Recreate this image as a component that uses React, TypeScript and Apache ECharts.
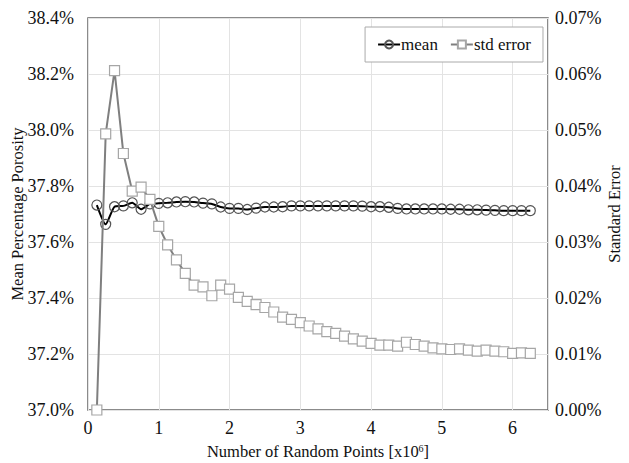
import React, { useEffect, useRef } from "react";
import * as echarts from "echarts";

// x values: number of random points [x10^6]
const xPoints: number[] = [
  0.125, 0.25, 0.375, 0.5, 0.625, 0.75, 0.875, 1.0, 1.125, 1.25,
  1.375, 1.5, 1.625, 1.75, 1.875, 2.0, 2.125, 2.25, 2.375, 2.5,
  2.625, 2.75, 2.875, 3.0, 3.125, 3.25, 3.375, 3.5, 3.625, 3.75,
  3.875, 4.0, 4.125, 4.25, 4.375, 4.5, 4.625, 4.75, 4.875, 5.0,
  5.125, 5.25, 5.375, 5.5, 5.625, 5.75, 5.875, 6.0, 6.125, 6.25,
];

// mean percentage porosity (%)
const meanValues: number[] = [
  37.732, 37.663, 37.726, 37.729, 37.740, 37.717, 37.736, 37.738, 37.740, 37.743,
  37.744, 37.743, 37.739, 37.736, 37.725, 37.720, 37.720, 37.716, 37.721, 37.725,
  37.725, 37.726, 37.729, 37.729, 37.729, 37.729, 37.729, 37.729, 37.729, 37.729,
  37.728, 37.726, 37.726, 37.724, 37.720, 37.718, 37.718, 37.718, 37.718, 37.718,
  37.717, 37.717, 37.715, 37.715, 37.714, 37.713, 37.712, 37.712, 37.712, 37.712,
];

// standard error (%)
const stdErrorValues: number[] = [
  0.0, 0.0493, 0.0606, 0.0458, 0.0391, 0.0398, 0.0376, 0.0328, 0.0295, 0.0268,
  0.0244, 0.0223, 0.0220, 0.0204, 0.0223, 0.0216, 0.0201, 0.0194, 0.0188, 0.0183,
  0.0175, 0.0166, 0.0162, 0.0156, 0.0150, 0.0145, 0.0140, 0.0137, 0.0132, 0.0127,
  0.0123, 0.0119, 0.0116, 0.0116, 0.0114, 0.0121, 0.0117, 0.0114, 0.0111, 0.0109,
  0.0108, 0.0109, 0.0107, 0.0105, 0.0107, 0.0105, 0.0104, 0.0101, 0.0102, 0.0101,
];

const FONT = "Liberation Serif";
const TEXT = "#111";

export default function App() {
  const ref = useRef<HTMLDivElement>(null);

  useEffect(() => {
    if (!ref.current) return;
    const chart = echarts.init(ref.current, null, { renderer: "svg" });
    chart.setOption({
      animation: false,
      backgroundColor: "#ffffff",
      textStyle: { fontFamily: FONT, color: TEXT },
      grid: {
        left: 88,
        right: 81,
        top: 18,
        bottom: 53,
        show: true,
        borderColor: "#666",
        borderWidth: 1.5,
        backgroundColor: "transparent",
        outerBoundsMode: "none",
        containLabel: false,
      },
      legend: {
        top: 27,
        right: 86,
        data: ["mean", "std error"],
        backgroundColor: "#fff",
        borderColor: "#aaa",
        borderWidth: 1,
        padding: [9, 12, 9, 12],
        itemGap: 12,
        itemWidth: 22,
        itemHeight: 10,
        textStyle: { fontFamily: FONT, fontSize: 17, color: TEXT, padding: [0, 0, 0, -4] },
      },
      xAxis: {
        type: "value",
        min: 0,
        max: 6.5,
        interval: 1,
        name: "Number of Random Points [x10{sup|6}]",
        nameLocation: "middle",
        nameGap: 33,
        nameMoveOverlap: false,
        nameTextStyle: {
          fontFamily: FONT,
          fontSize: 16.5,
          color: TEXT,
          rich: {
            sup: { fontFamily: FONT, fontSize: 10, verticalAlign: "top", color: TEXT, padding: [0, 0, 6, 0] },
          },
        },
        axisLine: { show: false },
        axisTick: { show: false },
        axisLabel: {
          fontFamily: FONT,
          fontSize: 18,
          color: TEXT,
          margin: 9,
          formatter: (v: number) => (Number.isInteger(v) ? String(v) : ""),
        },
        splitLine: { show: true, lineStyle: { color: "#e3e3e3", width: 1 } },
      },
      yAxis: [
        {
          type: "value",
          min: 37.0,
          max: 38.4,
          interval: 0.2,
          name: "Mean Percentage Porosity",
          nameLocation: "middle",
          nameGap: 62,
          nameMoveOverlap: false,
          nameTextStyle: { fontFamily: FONT, fontSize: 16.5, color: TEXT },
          axisLine: { show: false },
          axisTick: { show: false },
          axisLabel: {
            fontFamily: FONT,
            fontSize: 18,
            color: TEXT,
            margin: 14,
            formatter: (v: number) => v.toFixed(1) + "%",
          },
          splitLine: { show: true, lineStyle: { color: "#e3e3e3", width: 1 } },
        },
        {
          type: "value",
          min: 0,
          max: 0.07,
          interval: 0.01,
          position: "right",
          name: "Standard Error",
          nameLocation: "middle",
          nameGap: 58,
          nameRotate: 90,
          nameMoveOverlap: false,
          nameTextStyle: { fontFamily: FONT, fontSize: 16.5, color: TEXT },
          axisLine: { show: false },
          axisTick: { show: false },
          axisLabel: {
            fontFamily: FONT,
            fontSize: 18,
            color: TEXT,
            margin: 7,
            formatter: (v: number) => v.toFixed(2) + "%",
          },
          splitLine: { show: false },
        },
      ],
      series: [
        {
          name: "mean",
          type: "line",
          yAxisIndex: 0,
          data: xPoints.map((x, i) => [x, meanValues[i]]),
          smooth: 0.2,
          symbol: "circle",
          symbolSize: 10,
          showAllSymbol: true,
          lineStyle: { color: "#000", width: 2 },
          itemStyle: { color: "rgba(255,255,255,0)", borderColor: "#555", borderWidth: 1.2 },
          z: 2,
        },
        {
          name: "std error",
          type: "line",
          yAxisIndex: 1,
          data: xPoints.map((x, i) => [x, stdErrorValues[i]]),
          symbol: "rect",
          symbolSize: 10,
          showAllSymbol: true,
          lineStyle: { color: "#7f7f7f", width: 2 },
          itemStyle: { color: "#fff", borderColor: "#a6a6a6", borderWidth: 1.2 },
          z: 3,
        },
      ],
    });
    return () => chart.dispose();
  }, []);

  return (
    <div
      ref={ref}
      style={{ position: "fixed", left: 0, top: 0, width: 629, height: 463 }}
    />
  );
}
